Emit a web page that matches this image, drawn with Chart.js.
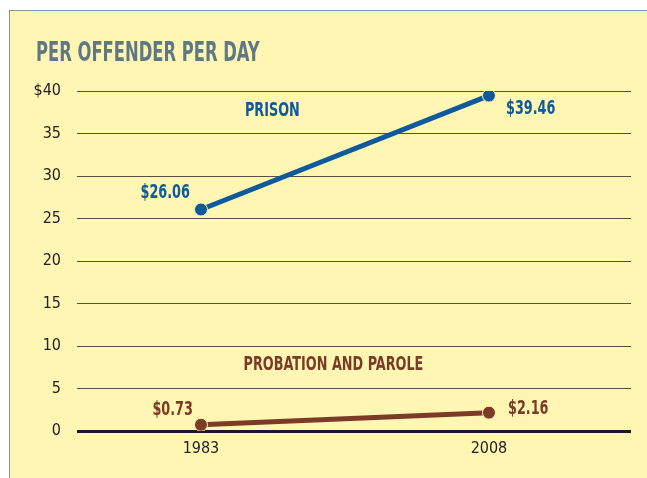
<!DOCTYPE html>
<html><head><meta charset="utf-8">
<script src="https://cdn.jsdelivr.net/npm/chart.js@4"></script>
<style>
html,body{margin:0;padding:0;background:#fff;width:647px;height:478px;overflow:hidden}
#panel{position:absolute;left:9px;top:10px;width:640px;height:470px;background:#fff6b3;border-left:1px solid #8197a6;border-top:1px solid #8197a6}
#wrap{position:absolute;left:0;top:0;width:647px;height:478px}
</style></head><body>
<div id="panel"></div>
<div id="wrap"><canvas id="c" width="647" height="478"></canvas></div>
<script>
const years = [1983, 2008];
const prison = [26.06, 39.46];
const probation = [0.73, 2.16];
const yTicks = [0,5,10,15,20,25,30,35,40];
const yTickLabels = ['0','5','10','15','20','25','30','35','$40'];
const title = 'PER OFFENDER PER DAY';
const seriesNames = ['PRISON','PROBATION AND PAROLE'];

const FONT = '"DejaVu Sans Condensed","Liberation Sans Narrow",sans-serif';
const BLUE = '#0e5a9c', BROWN = '#7b3b27';

function txt(ctx, s, x, y, align, sx){
  const w = ctx.measureText(s).width * sx;
  let left = align === 'left' ? x : align === 'right' ? x - w : x - w/2;
  ctx.save();
  ctx.translate(left, y);
  ctx.scale(sx, 1);
  ctx.textAlign = 'left';
  ctx.fillText(s, 0, 0);
  ctx.restore();
}

const labelPlugin = {
  id:'labels',
  afterDatasetsDraw(chart){
    const ctx = chart.ctx, xs = chart.scales.x, ys = chart.scales.y;
    ctx.save();
    ctx.font = 'bold 26px ' + FONT;
    ctx.fillStyle = '#5f7886';
    ctx.textBaseline = 'alphabetic';
    txt(ctx, title, 36, 61, 'left', 0.70);
    ctx.font = 'bold 19px ' + FONT;
    ctx.textBaseline = 'middle';
    const S = 0.75;
    const fmt = v => '$' + v.toFixed(2);
    ctx.fillStyle = BLUE;
    txt(ctx, fmt(prison[0]), xs.getPixelForValue(years[0]) - 11, ys.getPixelForValue(prison[0]) - 16, 'right', S);
    txt(ctx, fmt(prison[1]), xs.getPixelForValue(years[1]) + 17, ys.getPixelForValue(prison[1]) + 13, 'left', S);
    txt(ctx, seriesNames[0], xs.getPixelForValue(1989.2), ys.getPixelForValue(37.6), 'center', S);
    ctx.fillStyle = BROWN;
    txt(ctx, fmt(probation[0]), xs.getPixelForValue(years[0]) - 8, ys.getPixelForValue(probation[0]) - 15, 'right', S);
    txt(ctx, fmt(probation[1]), xs.getPixelForValue(years[1]) + 19, ys.getPixelForValue(probation[1]) - 4, 'left', S);
    txt(ctx, seriesNames[1], xs.getPixelForValue(1994.5), ys.getPixelForValue(7.7), 'center', S);
    ctx.restore();
  }
};

new Chart(document.getElementById('c'), {
  type:'line',
  data:{
    datasets:[
      {data: years.map((y,i)=>({x:y,y:prison[i]})), borderColor:BLUE, backgroundColor:BLUE, borderWidth:5,
       pointRadius:6.5, pointBackgroundColor:BLUE, pointBorderColor:'#fff6b3', pointBorderWidth:1},
      {data: years.map((y,i)=>({x:y,y:probation[i]})), borderColor:BROWN, backgroundColor:BROWN, borderWidth:5,
       pointRadius:6.5, pointBackgroundColor:BROWN, pointBorderColor:'#fff6b3', pointBorderWidth:1}
    ]
  },
  options:{
    responsive:false, animation:false, devicePixelRatio:1,
    layout:{padding:{left:0,right:16,top:91,bottom:0}},
    plugins:{legend:{display:false},tooltip:{enabled:false}},
    scales:{
      x:{type:'linear', min:1972.24, max:2020.33,
        afterBuildTicks(s){ s.ticks = years.map(v=>({value:v})); },
        afterFit(s){ s.height = 47; },
        grid:{display:false, drawTicks:false}, border:{display:false},
        ticks:{padding:8, color:'#222', font:{family:FONT, size:16}, callback:v=>String(v)}
      },
      y:{min:0,max:40,
        afterBuildTicks(s){ s.ticks = yTicks.map(v=>({value:v})); },
        afterFit(s){ s.width = 77; },
        grid:{drawTicks:false, color:c=>c.tick && c.tick.value===0 ? '#1a1a1a' : '#56513a', lineWidth:c=>c.tick && c.tick.value===0 ? 3 : 1},
        border:{display:false},
        ticks:{padding:16, color:'#222', font:{family:FONT, size:16}, callback:(v)=>yTickLabels[yTicks.indexOf(v)]}
      }
    }
  },
  plugins:[labelPlugin]
});
</script>
</body></html>
